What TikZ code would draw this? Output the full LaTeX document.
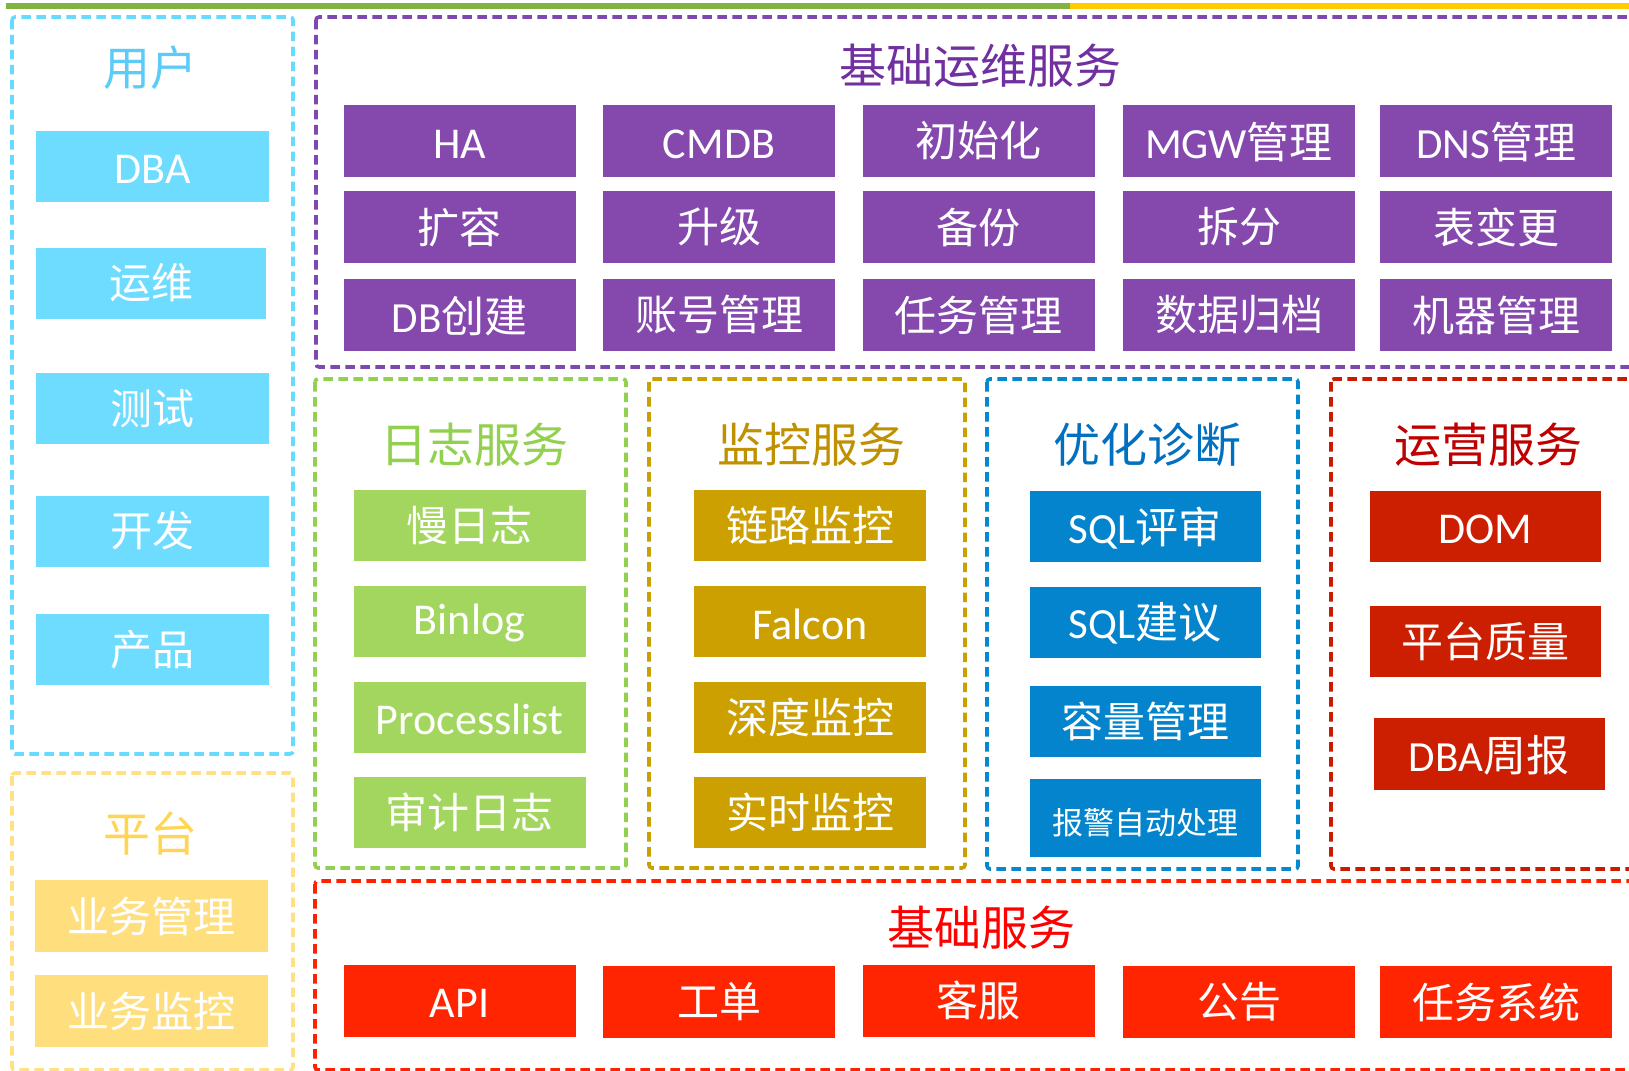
\documentclass[tikz,border=0pt]{standalone}
\usepackage{fontspec}
\setmainfont{Carlito}
\newfontfamily\cjkfont{Noto Sans CJK SC}
\newcommand\zh[1]{{\cjkfont #1}}
\newcommand\dn[2]{\raisebox{-#1}[\height][\depth]{#2}}
\definecolor{cyanB}{HTML}{66DAFF}
\definecolor{cyanF}{HTML}{6DDCFF}
\definecolor{cyanT}{HTML}{5CCBF7}
\definecolor{purB}{HTML}{7E48B0}
\definecolor{purF}{HTML}{8549AE}
\definecolor{purT}{HTML}{7030A0}
\definecolor{yelB}{HTML}{FFE083}
\definecolor{yelF}{HTML}{FFDF7D}
\definecolor{yelT}{HTML}{FFD553}
\definecolor{grnB}{HTML}{92D050}
\definecolor{grnF}{HTML}{A2D65F}
\definecolor{grnT}{HTML}{92D050}
\definecolor{golB}{HTML}{C9A000}
\definecolor{golF}{HTML}{CCA000}
\definecolor{golT}{HTML}{BF9000}
\definecolor{bluB}{HTML}{0488D0}
\definecolor{bluF}{HTML}{0384CC}
\definecolor{bluT}{HTML}{0070C0}
\definecolor{opsB}{HTML}{CC1A00}
\definecolor{opsF}{HTML}{CC1E00}
\definecolor{opsT}{HTML}{C00000}
\definecolor{basB}{HTML}{FF2200}
\definecolor{basF}{HTML}{FF2500}
\definecolor{basT}{HTML}{FF0000}
\definecolor{barG}{HTML}{80B340}
\definecolor{barY}{HTML}{FFCC00}
\tikzset{
  frame/.style={line width=3.6pt, dash pattern=on 9.5pt off 5.5pt, rounded corners=3pt},
  ttl/.style={font=\cjkfont\fontsize{47}{47}\selectfont, inner sep=0pt},
  cell/.style={fill=#1, text=white, inner sep=0pt, minimum width=232pt, minimum height=72pt,
    font=\fontsize{42}{42}\selectfont},
  lat/.style={font=\fontsize{44}{44}\selectfont},
  mix/.style={font=\fontsize{43}{43}\selectfont},
}
\begin{document}
\begin{tikzpicture}[x=1pt,y=-1pt]
\useasboundingbox (0,0) rectangle (1629,1070);
\clip (0,0) rectangle (1629,1070);
\fill[white] (0,0) rectangle (1629,1070);
% top bar
\fill[barG] (6,3) rectangle (1070,9);
\fill[barY] (1070,3) rectangle (1629,9);
% frames
\draw[frame, cyanB] (12,17) rectangle (293,754);
\draw[frame, yelB] (12,773) rectangle (293,1070);
\draw[frame, purB] (316,17) rectangle (1645,367);
\draw[frame, grnB] (315,379) rectangle (626,868);
\draw[frame, golB] (649,379) rectangle (965,868);
\draw[frame, bluB] (987,379) rectangle (1298,869);
\draw[frame, opsB] (1331,379) rectangle (1645,869);
\draw[frame, basB] (315,881) rectangle (1645,1070);
% titles
\node[ttl, text=cyanT] (tuser) at (150,68) {用户};
\node[ttl, text=yelT] (tplat) at (150,834) {平台};
\node[ttl, text=purT] (tops) at (980,66) {基础运维服务};
\node[ttl, text=grnT] (tlog) at (474,445) {日志服务};
\node[ttl, text=golT] (tmon) at (811,445) {监控服务};
\node[ttl, text=bluT] (topt) at (1147,445) {优化诊断};
\node[ttl, text=opsT] (toper) at (1488,445) {运营服务};
\node[ttl, text=basT] (tbase) at (981,928) {基础服务};
% user
\node[cell=cyanF, lat, minimum width=233pt, minimum height=71pt] (u1) at (152.5,166) {\dn{3pt}{DBA}};
\node[cell=cyanF, minimum width=230pt, minimum height=71pt] (u2) at (151,283) {\zh{运维}};
\node[cell=cyanF, minimum width=233pt, minimum height=71pt] (u3) at (152.5,408.5) {\zh{测试}};
\node[cell=cyanF, minimum width=233pt, minimum height=71pt] (u4) at (152.5,531) {\zh{开发}};
\node[cell=cyanF, minimum width=233pt, minimum height=71pt] (u5) at (152.5,649.5) {\zh{产品}};
% platform
\node[cell=yelF, minimum width=233pt] (p1) at (151.5,916) {\zh{业务管理}};
\node[cell=yelF, minimum width=233pt] (p2) at (151.5,1011) {\zh{业务监控}};
% basic ops
\node[cell=purF, lat] (o11) at (459.5,141) {\dn{3pt}{HA}};
\node[cell=purF, lat] (o12) at (719,141) {\dn{3pt}{CMDB}};
\node[cell=purF] (o13) at (978.5,141) {\zh{初始化}};
\node[cell=purF, mix] (o14) at (1239,141) {\dn{1.5pt}{MGW\zh{管理}}};
\node[cell=purF, mix] (o15) at (1496,141) {\dn{1.5pt}{DNS\zh{管理}}};
\node[cell=purF] (o21) at (459.5,227) {\zh{扩容}};
\node[cell=purF] (o22) at (719,227) {\zh{升级}};
\node[cell=purF] (o23) at (978.5,227) {\zh{备份}};
\node[cell=purF] (o24) at (1239,227) {\zh{拆分}};
\node[cell=purF] (o25) at (1496,227) {\zh{表变更}};
\node[cell=purF, mix] (o31) at (459.5,315) {\dn{1.5pt}{DB\zh{创建}}};
\node[cell=purF] (o32) at (719,315) {\zh{账号管理}};
\node[cell=purF] (o33) at (978.5,315) {\zh{任务管理}};
\node[cell=purF] (o34) at (1239,315) {\zh{数据归档}};
\node[cell=purF] (o35) at (1496,315) {\zh{机器管理}};
% log
\node[cell=grnF, minimum height=71pt] (l1) at (469.5,525.5) {\zh{慢日志}};
\node[cell=grnF, lat, minimum height=71pt] (l2) at (469.5,621.5) {\dn{1pt}{Binlog}};
\node[cell=grnF, lat, minimum height=71pt] (l3) at (469.5,717) {\dn{2pt}{Processlist}};
\node[cell=grnF, minimum height=71pt] (l4) at (469.5,812.5) {\zh{审计日志}};
% monitor
\node[cell=golF, minimum height=71pt] (m1) at (810,525.5) {\zh{链路监控}};
\node[cell=golF, lat, minimum height=71pt] (m2) at (810,621.5) {\dn{3pt}{Falcon}};
\node[cell=golF, minimum height=71pt] (m3) at (810,717) {\zh{深度监控}};
\node[cell=golF, minimum height=71pt] (m4) at (810,812.5) {\zh{实时监控}};
% optimize
\node[cell=bluF, mix, minimum width=231pt, minimum height=71pt] (d1) at (1145,526.5) {\dn{1.5pt}{SQL\zh{评审}}};
\node[cell=bluF, mix, minimum width=231pt, minimum height=71pt] (d2) at (1145,622) {\dn{1.5pt}{SQL\zh{建议}}};
\node[cell=bluF, minimum width=231pt, minimum height=71pt] (d3) at (1145,721) {\zh{容量管理}};
\node[cell=bluF, minimum width=231pt, minimum height=78pt, font=\cjkfont\fontsize{31}{31}\selectfont] (d4) at (1145,818) {\dn{5pt}{报警自动处理}};
% operations
\node[cell=opsF, lat, minimum width=231pt, minimum height=71pt] (r1) at (1485.5,526.5) {\dn{3pt}{DOM}};
\node[cell=opsF, minimum width=231pt, minimum height=71pt] (r2) at (1485.5,641) {\zh{平台质量}};
\node[cell=opsF, mix, minimum width=231pt, minimum height=72pt] (r3) at (1489,754) {\dn{1.5pt}{DBA\zh{周报}}};
% basic services
\node[cell=basF, lat] (b1) at (459.5,1000.5) {\dn{3pt}{API}};
\node[cell=basF] (b2) at (719,1001.5) {\zh{工单}};
\node[cell=basF] (b3) at (978.5,1000.5) {\zh{客服}};
\node[cell=basF] (b4) at (1239,1002) {\zh{公告}};
\node[cell=basF] (b5) at (1496,1002) {\zh{任务系统}};
\end{tikzpicture}
\end{document}
